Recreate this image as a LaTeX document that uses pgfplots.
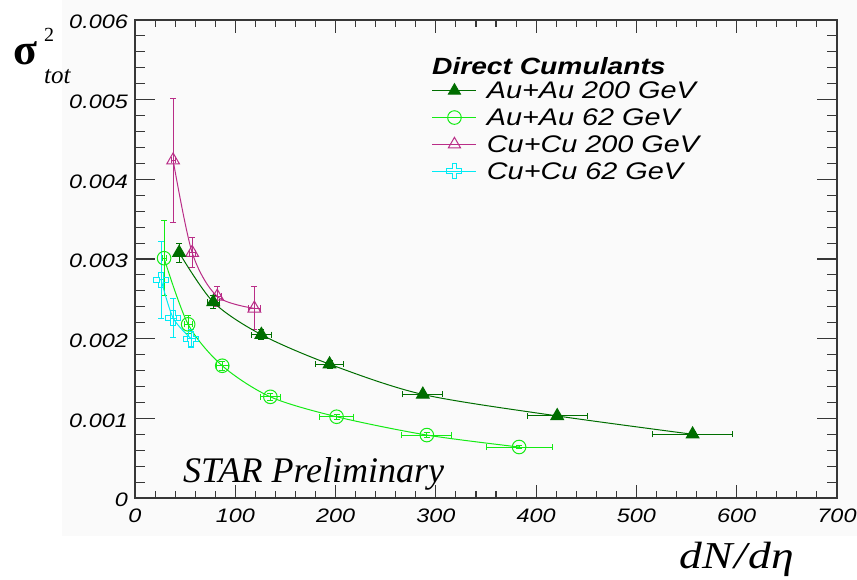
\documentclass[border=0pt]{standalone}
\usepackage{fontspec}
\usepackage{pgfplots}
\usepackage{pgfplotstable}
\pgfplotsset{compat=1.18}
\setmainfont{Liberation Sans}
\newfontfamily\rootsans[FakeStretch=1.2]{Liberation Sans}
\newfontfamily\rootserif{Liberation Serif}
\newfontfamily\rootserifwide[FakeStretch=1.2]{Liberation Serif}

\definecolor{panel}{RGB}{250,250,250}
\definecolor{framegray}{RGB}{55,55,55}
\definecolor{aatwo}{RGB}{0,110,0}
\definecolor{aasix}{RGB}{20,235,20}
\definecolor{cutwo}{RGB}{185,45,135}
\definecolor{cusix}{RGB}{0,235,245}

% open cross (outlined plus sign)
\pgfdeclareplotmark{ocross}{%
  \pgfmathsetlengthmacro\r{\pgfplotmarksize}%
  \pgfmathsetlengthmacro\a{0.32*\pgfplotmarksize}%
  \pgfpathmoveto{\pgfqpoint{-\a}{\r}}%
  \pgfpathlineto{\pgfqpoint{\a}{\r}}%
  \pgfpathlineto{\pgfqpoint{\a}{\a}}%
  \pgfpathlineto{\pgfqpoint{\r}{\a}}%
  \pgfpathlineto{\pgfqpoint{\r}{-\a}}%
  \pgfpathlineto{\pgfqpoint{\a}{-\a}}%
  \pgfpathlineto{\pgfqpoint{\a}{-\r}}%
  \pgfpathlineto{\pgfqpoint{-\a}{-\r}}%
  \pgfpathlineto{\pgfqpoint{-\a}{-\a}}%
  \pgfpathlineto{\pgfqpoint{-\r}{-\a}}%
  \pgfpathlineto{\pgfqpoint{-\r}{\a}}%
  \pgfpathlineto{\pgfqpoint{-\a}{\a}}%
  \pgfpathclose
  \pgfusepathqstroke}

% dN/deta, sigma^2_tot, x error, y error
\pgfplotstableread{
x y ex ey
44 0.00308 2 0.00012
78 0.00246 6 0.00008
126 0.00205 10 0.00006
194 0.00168 14 0.00005
287 0.00130 20 0.00004
421 0.00103 30 0.00003
556 0.00080 40 0.00003
}\tabAuAuTwo

\pgfplotstableread{
x y ex ey
29 0.00301 2 0.00047
53 0.00218 4 0.00011
87 0.00166 6 0.00006
135 0.00127 10 0.00004
201 0.00102 17 0.00003
291 0.00079 25 0.00003
383 0.00064 33 0.00002
}\tabAuAuSix

\pgfplotstableread{
x y ex ey
38 0.00424 2 0.00078
57 0.00308 3 0.00019
82 0.00253 4 0.00012
119 0.00238 6 0.00027
}\tabCuCuTwo

\pgfplotstableread{
x y ex ey
26 0.00274 2 0.00048
38 0.00226 3 0.00024
56 0.00200 4 0.00011
}\tabCuCuSix

\begin{document}
\begin{tikzpicture}
\useasboundingbox (0,0) rectangle (857pt,579pt);
\fill[panel] (62pt,43pt) rectangle (857pt,579pt);
\begin{axis}[
  at={(135pt,81pt)}, anchor=south west,
  scale only axis, width=702pt, height=478pt,
  xmin=0, xmax=700, ymin=0, ymax=0.006,
  axis line style={draw=framegray, line width=1.3pt},
  tick align=inside,
  xtick={0,100,...,700},
  xticklabels={0,100,200,300,400,500,600,700},
  ytick={0,0.001,...,0.006},
  yticklabels={0,0.001,0.002,0.003,0.004,0.005,0.006},
  scaled y ticks=false,
  minor x tick num=4, minor y tick num=4,
  every tick/.style={draw=framegray, line width=1.1pt},
  x tick style={/pgfplots/major tick length=13pt, /pgfplots/minor tick length=7pt},
  y tick style={/pgfplots/major tick length=20pt, /pgfplots/minor tick length=10pt},
  /pgf/number format/assume math mode=true,
  tick label style={font=\rootsans\itshape\fontsize{19.5}{20}\selectfont, inner sep=0pt},
  xticklabel style={anchor=north, yshift=-11pt},
  yticklabel style={anchor=east, xshift=-7pt, yshift=-2pt},
  error bars/error bar style={line width=0.9pt},
  error bars/error mark options={rotate=90, mark size=3pt, line width=0.9pt},
  legend cell align=left,
  legend style={at={(0.423,0.8724)}, anchor=north west, draw=none, fill=none,
    inner sep=0pt, outer sep=0pt, row sep=7.3pt, column sep=10pt,
    nodes={inner sep=0pt},
    font=\rootsans\itshape\fontsize{24}{25}\selectfont},
  legend image code/.code={\draw[mark repeat=2,mark phase=2,#1]
    plot coordinates {(0pt,0pt)(22pt,0pt)(44pt,0pt)};},
]

\addplot[forget plot, color=aasix, line width=1pt, smooth, tension=0.5,
  mark=o, mark size=6.8pt, mark options={line width=1pt, fill=none},
  error bars/.cd, x dir=both, x explicit, y dir=both, y explicit]
  table[x=x, y=y, x error=ex, y error=ey] {\tabAuAuSix};

\addplot[forget plot, color=cusix, line width=1pt, smooth, tension=0.5,
  mark=ocross, mark size=7.5pt, mark options={line width=1pt},
  error bars/.cd, x dir=both, x explicit, y dir=both, y explicit]
  table[x=x, y=y, x error=ex, y error=ey] {\tabCuCuSix};

\addplot[forget plot, color=cutwo, line width=1pt, smooth, tension=0.5,
  mark=triangle, mark size=7.3pt, mark options={line width=1pt, fill=none},
  error bars/.cd, x dir=both, x explicit, y dir=both, y explicit]
  table[x=x, y=y, x error=ex, y error=ey] {\tabCuCuTwo};

\addplot[forget plot, color=aatwo, line width=1pt, smooth, tension=0.5,
  mark=triangle*, mark size=7.3pt, mark options={fill=aatwo},
  error bars/.cd, x dir=both, x explicit, y dir=both, y explicit]
  table[x=x, y=y, x error=ex, y error=ey] {\tabAuAuTwo};

\addlegendimage{color=aatwo, line width=1pt, mark=triangle*, mark size=7pt, mark options={fill=aatwo}}
\addlegendentry{\rule{0pt}{18pt}Au+Au 200 GeV}
\addlegendimage{color=aasix, line width=1pt, mark=o, mark size=6.8pt}
\addlegendentry{\rule{0pt}{18pt}Au+Au 62 GeV}
\addlegendimage{color=cutwo, line width=1pt, mark=triangle, mark size=7pt}
\addlegendentry{\rule{0pt}{18pt}Cu+Cu 200 GeV}
\addlegendimage{color=cusix, line width=1pt, mark=ocross, mark size=7.5pt}
\addlegendentry{\rule{0pt}{18pt}Cu+Cu 62 GeV}

\node[anchor=base west, inner sep=0pt, font=\rootsans\bfseries\itshape\fontsize{23.5}{24}\selectfont]
  at (rel axis cs:0.423,0.885) {Direct Cumulants};
\node[anchor=base west, inner sep=0pt, font=\rootserif\itshape\fontsize{36}{36}\selectfont]
  at (rel axis cs:0.0684,0.0314) {STAR Preliminary};
\end{axis}

% axis titles
\node[anchor=base west, inner sep=0pt, font=\rootserif\bfseries\fontsize{44}{44}\selectfont] at (13pt,514pt) {σ};
\node[anchor=base west, inner sep=0pt, font=\rootserif\fontsize{20}{20}\selectfont] at (44pt,537pt) {2};
\node[anchor=base west, inner sep=0pt, font=\rootserif\itshape\fontsize{25}{25}\selectfont] at (44pt,495pt) {tot};
\node[anchor=base west, inner sep=0pt, font=\rootserifwide\itshape\fontsize{38}{38}\selectfont]
  at (679pt,11pt) {d\hspace{1pt}N\hspace{1pt}/\hspace{1pt}d\hspace{1pt}η};
\end{tikzpicture}
\end{document}
